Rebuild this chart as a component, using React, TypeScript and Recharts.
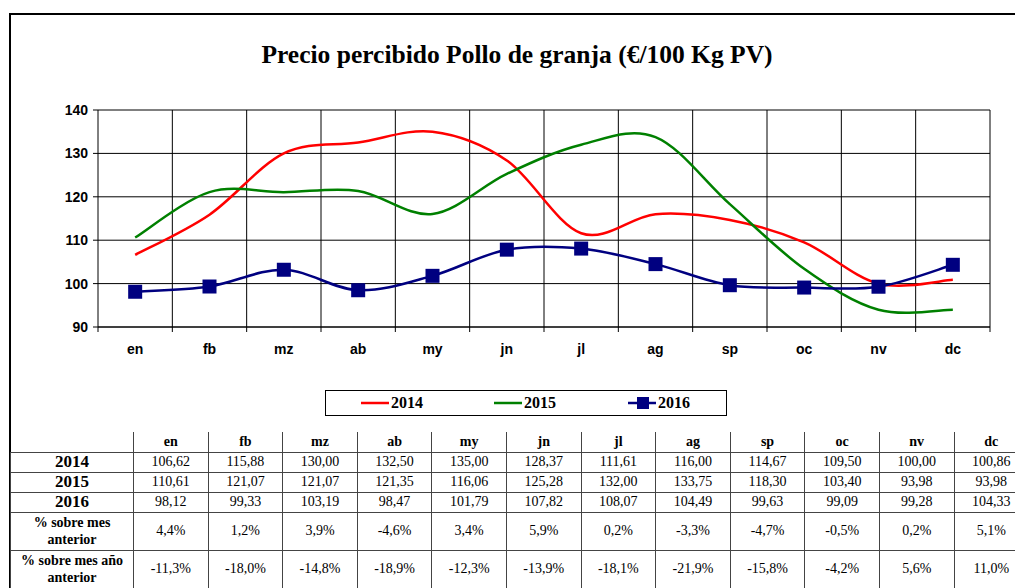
import { LineChart, Line, XAxis, YAxis, CartesianGrid } from 'recharts';

const MONTHS = ['en', 'fb', 'mz', 'ab', 'my', 'jn', 'jl', 'ag', 'sp', 'oc', 'nv', 'dc'];
const P2014 = [106.62, 115.88, 130.0, 132.5, 135.0, 128.37, 111.61, 116.0, 114.67, 109.5, 100.0, 100.86];
const P2015 = [110.61, 121.07, 121.07, 121.35, 116.06, 125.28, 132.0, 133.75, 118.3, 103.4, 93.98, 93.98];
const P2016 = [98.12, 99.33, 103.19, 98.47, 101.79, 107.82, 108.07, 104.49, 99.63, 99.09, 99.28, 104.33];
const VAR_MES = ['4,4%', '1,2%', '3,9%', '-4,6%', '3,4%', '5,9%', '0,2%', '-3,3%', '-4,7%', '-0,5%', '0,2%', '5,1%'];
const VAR_ANYO = ['-11,3%', '-18,0%', '-14,8%', '-18,9%', '-12,3%', '-13,9%', '-18,1%', '-21,9%', '-15,8%', '-4,2%', '5,6%', '11,0%'];
const Y_TICKS = [90, 100, 110, 120, 130, 140];

const data = MONTHS.map((m, i) => ({
  m,
  pos: i + 0.5,
  y2014: P2014[i],
  y2015: P2015[i],
  y2016: P2016[i],
}));

// ticks en los bordes (enteros) y etiquetas en el centro (x,5)
const X_TICKS = Array.from({ length: MONTHS.length * 2 + 1 }, (_, k) => k / 2);

const fmt = (v: number) => v.toFixed(2).replace('.', ',');

// suavizado tipo Excel (Catmull-Rom como bezier)
function excelCurve(context: any) {
  let pts: number[][] = [];
  return {
    areaStart() {},
    areaEnd() {},
    lineStart() {
      pts = [];
    },
    point(x: number, y: number) {
      pts.push([+x, +y]);
    },
    lineEnd() {
      if (!pts.length) return;
      context.moveTo(pts[0][0], pts[0][1]);
      for (let i = 0; i < pts.length - 1; i++) {
        const p0 = pts[i - 1] || pts[i];
        const p1 = pts[i];
        const p2 = pts[i + 1];
        const p3 = pts[i + 2] || pts[i + 1];
        context.bezierCurveTo(
          p1[0] + (p2[0] - p0[0]) / 6,
          p1[1] + (p2[1] - p0[1]) / 6,
          p2[0] - (p3[0] - p1[0]) / 6,
          p2[1] - (p3[1] - p1[1]) / 6,
          p2[0],
          p2[1]
        );
      }
    },
  };
}

const XTick = (props: any) => {
  const { x, y, payload } = props;
  const v = payload.value;
  if (Number.isInteger(v)) {
    return <line x1={x} x2={x} y1={y} y2={y + 5} stroke="#000" />;
  }
  return (
    <text
      x={x}
      y={y + 27}
      textAnchor="middle"
      fontFamily="Liberation Sans, Arial"
      fontWeight="bold"
      fontSize={14}
      fill="#000"
    >
      {MONTHS[Math.floor(v)]}
    </text>
  );
};

const SquareDot = (props: any) => {
  const { cx, cy, index } = props;
  return <rect key={index} x={cx - 7} y={cy - 7} width={14} height={14} fill="#000080" />;
};

const serif = '"Liberation Serif", "Times New Roman", serif';

const cell = (extra: any = {}) => ({
  border: '1px solid #444',
  textAlign: 'center' as const,
  padding: 0,
  fontFamily: serif,
  fontSize: 14,
  ...extra,
});

export default function App() {
  const colW = 74.6;
  return (
    <div
      style={{
        position: 'absolute',
        left: 0,
        top: 0,
        width: 1015,
        height: 588,
        overflow: 'hidden',
        background: '#fff',
      }}
    >
      {/* marco */}
      <div
        style={{
          position: 'absolute',
          left: 9,
          top: 13,
          width: 1100,
          height: 700,
          borderLeft: '2px solid #000',
          borderTop: '2px solid #000',
        }}
      />
      <div
        style={{
          position: 'absolute',
          left: 517,
          top: 40,
          transform: 'translateX(-50%)',
          whiteSpace: 'nowrap',
          fontFamily: serif,
          fontWeight: 'bold',
          fontSize: 25.5,
        }}
      >
        Precio percibido Pollo de granja (€/100 Kg PV)
      </div>
      <div style={{ position: 'absolute', left: 0, top: 0 }}>
        <LineChart width={1015} height={380} data={data} margin={{ top: 110, right: 25, bottom: 23, left: 58 }}>
          <CartesianGrid
            stroke="#000"
            strokeWidth={1}
            verticalCoordinatesGenerator={({ offset }: any) =>
              MONTHS.map((_, i) => offset.left + ((i + 1) * offset.width) / MONTHS.length)
            }
          />
          <XAxis
            dataKey="pos"
            type="number"
            domain={[0, 12]}
            ticks={X_TICKS}
            interval={0}
            tickSize={0}
            tickMargin={0}
            tickLine={false}
            axisLine={{ stroke: '#000' }}
            tick={<XTick />}
            height={30}
          />
          <YAxis
            domain={[90, 140]}
            ticks={Y_TICKS}
            width={40}
            tickSize={5}
            tickMargin={5}
            axisLine={{ stroke: '#000' }}
            tickLine={{ stroke: '#000' }}
            tick={{ fill: '#000', fontFamily: 'Liberation Sans, Arial', fontWeight: 'bold', fontSize: 14 }}
          />
          <Line
            dataKey="y2014"
            type={excelCurve as any}
            stroke="#ff0000"
            strokeWidth={2.5}
            dot={false}
            isAnimationActive={false}
          />
          <Line
            dataKey="y2015"
            type={excelCurve as any}
            stroke="#008000"
            strokeWidth={2.5}
            dot={false}
            isAnimationActive={false}
          />
          <Line
            dataKey="y2016"
            type={excelCurve as any}
            stroke="#000080"
            strokeWidth={2.5}
            dot={<SquareDot />}
            isAnimationActive={false}
          />
        </LineChart>
      </div>

      {/* leyenda */}
      <div
        style={{
          position: 'absolute',
          left: 325,
          top: 390,
          width: 400,
          height: 24,
          border: '1px solid #000',
          fontFamily: serif,
          fontWeight: 'bold',
          fontSize: 16,
        }}
      >
        {[
          { name: '2014', color: '#ff0000', left: 35, sq: false },
          { name: '2015', color: '#008000', left: 168, sq: false },
          { name: '2016', color: '#000080', left: 302, sq: true },
        ].map((s) => (
          <div key={s.name} style={{ position: 'absolute', left: s.left, top: 2, display: 'flex', alignItems: 'center' }}>
            <svg width={30} height={18}>
              <line x1={0} x2={28} y1={9} y2={9} stroke={s.color} strokeWidth={2.5} />
              {s.sq && <rect x={9} y={3} width={12} height={12} fill={s.color} />}
            </svg>
            <span style={{ lineHeight: '20px' }}>{s.name}</span>
          </div>
        ))}
      </div>

      {/* tabla */}
      <table
        style={{
          position: 'absolute',
          left: 10,
          top: 432,
          borderCollapse: 'collapse',
          tableLayout: 'fixed',
          width: 123 + colW * 12,
        }}
      >
        <colgroup>
          <col style={{ width: 123 }} />
          {MONTHS.map((m) => (
            <col key={m} style={{ width: colW }} />
          ))}
        </colgroup>
        <tbody>
          <tr style={{ height: 20 }}>
            <td style={cell({ border: 'none', borderRight: '1px solid #444' })} />
            {MONTHS.map((m) => (
              <td key={m} style={cell({ borderTop: 'none', fontWeight: 'bold' })}>
                {m}
              </td>
            ))}
          </tr>
          {[
            { label: '2014', vals: P2014 },
            { label: '2015', vals: P2015 },
            { label: '2016', vals: P2016 },
          ].map((r) => (
            <tr key={r.label} style={{ height: 20 }}>
              <td style={cell({ fontWeight: 'bold', fontSize: 17, lineHeight: '18px' })}>{r.label}</td>
              {r.vals.map((v, i) => (
                <td key={i} style={cell({ lineHeight: '18px' })}>
                  {fmt(v)}
                </td>
              ))}
            </tr>
          ))}
          {[
            { label: '% sobre mes anterior', vals: VAR_MES },
            { label: '% sobre mes año anterior', vals: VAR_ANYO },
          ].map((r) => (
            <tr key={r.label} style={{ height: 38 }}>
              <td style={cell({ fontWeight: 'bold', fontSize: 14, lineHeight: '17px' })}>{r.label}</td>
              {r.vals.map((v, i) => (
                <td key={i} style={cell()}>
                  {v}
                </td>
              ))}
            </tr>
          ))}
        </tbody>
      </table>
    </div>
  );
}
